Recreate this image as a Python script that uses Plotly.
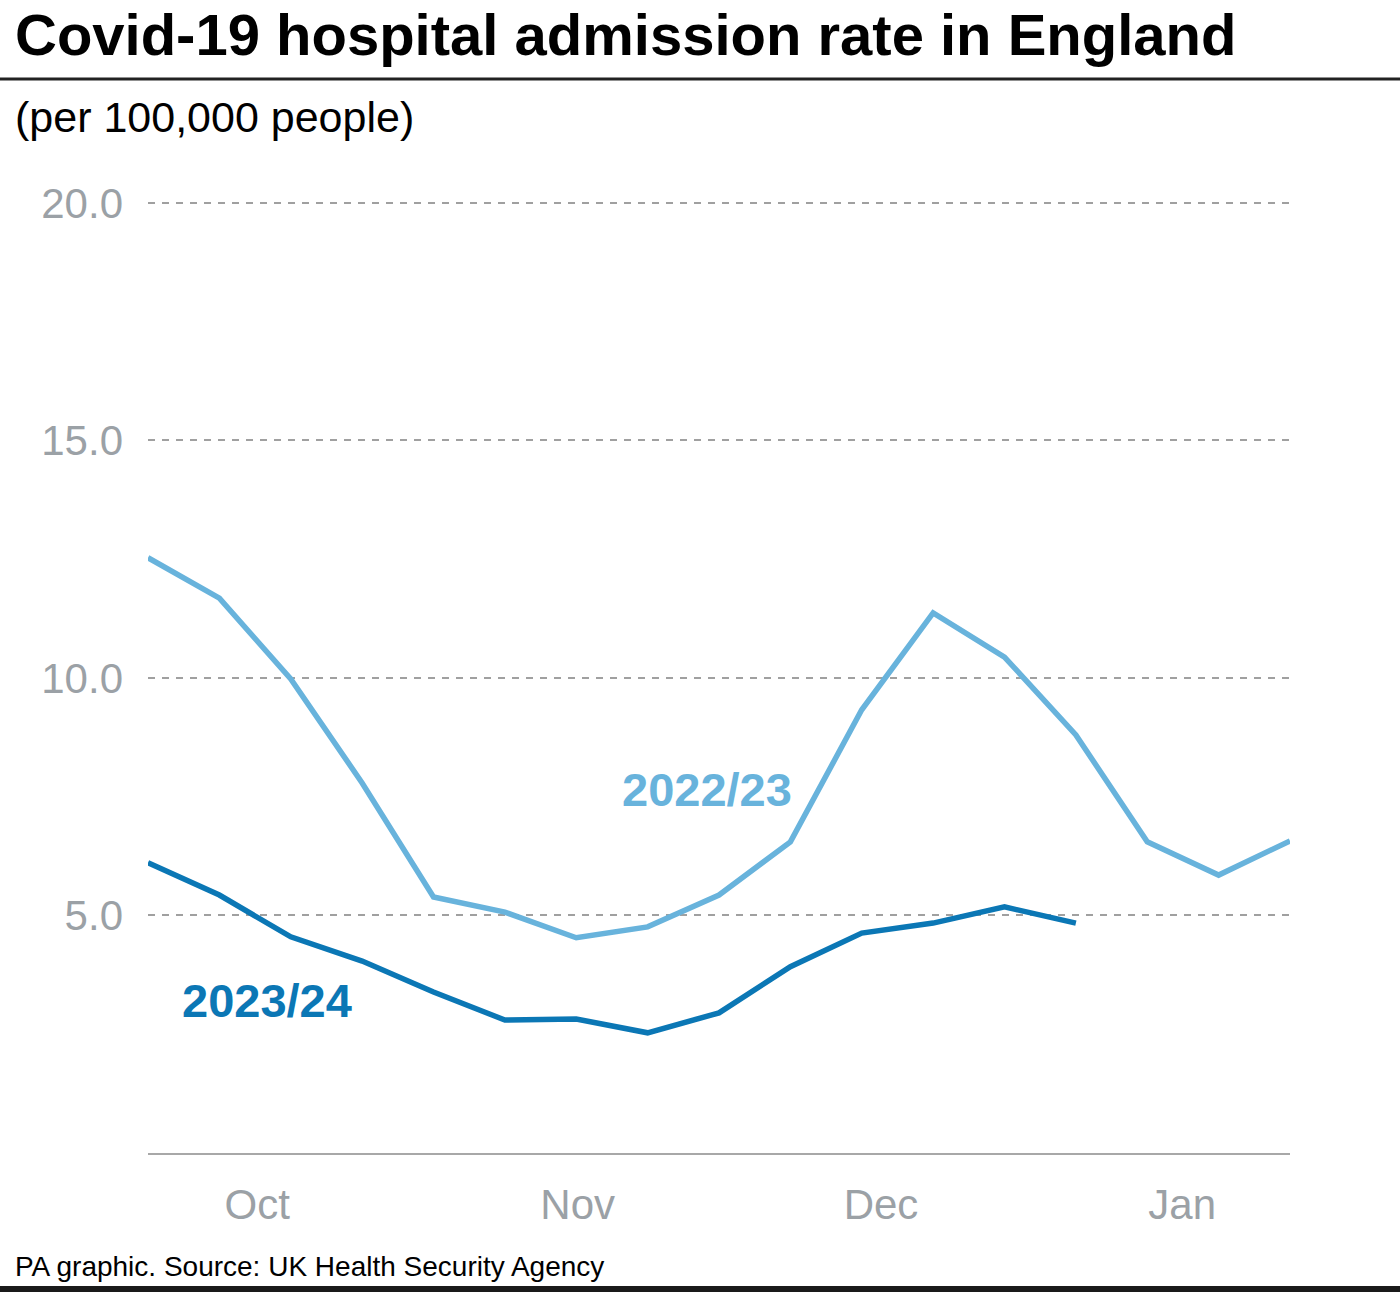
import plotly.graph_objects as go

# Weekly index (season week, starting late September)
weeks_2022 = list(range(17))
rate_2022_23 = [12.53, 11.68, 9.98, 7.79, 5.39, 5.07, 4.53, 4.76, 5.43, 6.55,
                9.33, 11.37, 10.44, 8.80, 6.55, 5.85, 6.57]
weeks_2023 = list(range(14))
rate_2023_24 = [6.11, 5.43, 4.55, 4.04, 3.39, 2.80, 2.82, 2.53, 2.95, 3.92,
                4.63, 4.84, 5.18, 4.84]

month_pos = [1.53, 6.02, 10.27, 14.49]
month_labels = ["Oct", "Nov", "Dec", "Jan"]
y_ticks = [5, 10, 15, 20]
y_labels = ["5.0", "10.0", "15.0", "20.0"]

LIGHT = "#68B3DC"
DARK = "#0B77B5"
GREY_TXT = "#9BA1A6"
FONT = "Liberation Sans"

fig = go.Figure()
fig.add_trace(go.Scatter(x=weeks_2022, y=rate_2022_23, mode="lines",
                         line=dict(color=LIGHT, width=5.5), hoverinfo="skip"))
fig.add_trace(go.Scatter(x=weeks_2023, y=rate_2023_24, mode="lines",
                         line=dict(color=DARK, width=5.5), hoverinfo="skip"))

fig.update_layout(
    width=1400, height=1292,
    margin=dict(l=148, r=110, t=201, b=139),
    paper_bgcolor="white", plot_bgcolor="white",
    showlegend=False,
    font=dict(family=FONT, color="#000"),
)
fig.update_xaxes(range=[0, 16], tickvals=month_pos, ticktext=month_labels,
                 showgrid=False, zeroline=False, ticks="",
                 showline=True, linecolor="#A8A8A8", linewidth=2,
                 tickfont=dict(family=FONT, size=42, color=GREY_TXT),
                 ticklabelstandoff=14)
fig.update_yaxes(range=[0, 20.04], tickvals=y_ticks, ticktext=y_labels,
                 showgrid=True, gridcolor="#A0A0A0", gridwidth=1.5,
                 griddash="7px,7px", zeroline=False, ticks="",
                 showline=False,
                 tickfont=dict(family=FONT, size=42, color=GREY_TXT),
                 ticklabelstandoff=24)

PW = 1142
PH = 952

def py2paper(py):
    return (1153 - py) / PH

def px2paper(px):
    return (px - 148) / PW

fig.add_annotation(text="<b>Covid-19 hospital admission rate in England</b>",
                   xref="paper", yref="paper", x=px2paper(13), y=py2paper(35),
                   xanchor="left", yanchor="middle", showarrow=False,
                   font=dict(family=FONT, size=58, color="#000"))
fig.add_annotation(text="(per 100,000 people)",
                   xref="paper", yref="paper", x=px2paper(13), y=py2paper(117),
                   xanchor="left", yanchor="middle", showarrow=False,
                   font=dict(family=FONT, size=43, color="#000"))
fig.add_annotation(text="PA graphic. Source: UK Health Security Agency",
                   xref="paper", yref="paper", x=px2paper(13), y=py2paper(1266),
                   xanchor="left", yanchor="middle", showarrow=False,
                   font=dict(family=FONT, size=28, color="#000"))
fig.add_annotation(text="<b>2022/23</b>", x=7.83, y=7.66, xref="x", yref="y",
                   showarrow=False, font=dict(family=FONT, size=47, color=LIGHT))
fig.add_annotation(text="<b>2023/24</b>", x=1.67, y=3.22, xref="x", yref="y",
                   showarrow=False, font=dict(family=FONT, size=47, color=DARK))

# rule under title and bottom bar
fig.add_shape(type="line", xref="paper", yref="paper",
              x0=px2paper(0), x1=px2paper(1400), y0=py2paper(79), y1=py2paper(79),
              line=dict(color="#222222", width=3))
fig.add_shape(type="rect", xref="paper", yref="paper",
              x0=px2paper(0), x1=px2paper(1400), y0=py2paper(1286), y1=py2paper(1292),
              line=dict(width=0), fillcolor="#1A1A1A")

fig.write_html("out.html")
